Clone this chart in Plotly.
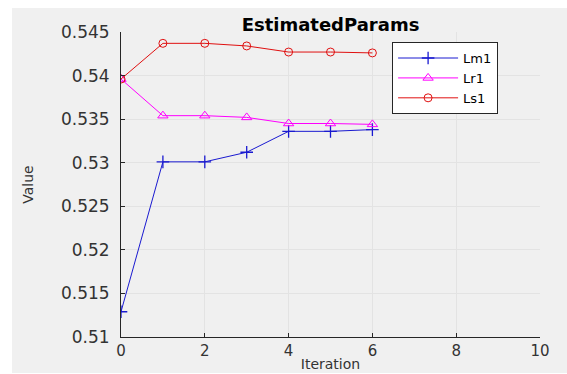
import plotly.graph_objects as go

iterations = [0, 1, 2, 3, 4, 5, 6]
lm1 = [0.5129, 0.5301, 0.5301, 0.5312, 0.5336, 0.5336, 0.5338]
lr1 = [0.5396, 0.5354, 0.5354, 0.5352, 0.5345, 0.5345, 0.5344]
ls1 = [0.5396, 0.5437, 0.5437, 0.5434, 0.5427, 0.5427, 0.5426]

x_ticks = [0, 2, 4, 6, 8, 10]
y_ticks = [0.51, 0.515, 0.52, 0.525, 0.53, 0.535, 0.54, 0.545]
y_tick_labels = ["0.51", "0.515", "0.52", "0.525", "0.53", "0.535", "0.54", "0.545"]

FONT = "DejaVu Sans"

fig = go.Figure()
fig.add_trace(go.Scatter(x=iterations, y=lm1, name="Lm1", mode="lines+markers",
                         line=dict(color="#1a1ad0", width=1),
                         marker=dict(symbol="cross-thin", size=9,
                                     line=dict(color="#1a1ad0", width=1.3))))
fig.add_trace(go.Scatter(x=iterations, y=lr1, name="Lr1", mode="lines+markers",
                         line=dict(color="#ff00ff", width=1),
                         marker=dict(symbol="triangle-up-open", size=9,
                                     color="#ff00ff", line=dict(width=1))))
fig.add_trace(go.Scatter(x=iterations, y=ls1, name="Ls1", mode="lines+markers",
                         line=dict(color="#e01010", width=1),
                         marker=dict(symbol="circle-open", size=8,
                                     color="#e01010", line=dict(width=1))))

# grey figure window background (white strip at the left, top and bottom edges)
fig.add_shape(type="rect", xref="paper", yref="paper",
              x0=-0.2601, x1=1.1, y0=-0.118, y1=1.0787,
              fillcolor="#f0f0f0", line=dict(width=0), layer="below")

fig.update_layout(
    width=567, height=374,
    margin=dict(l=121, r=27, t=32, b=37, autoexpand=False),
    paper_bgcolor="white", plot_bgcolor="white",
    font=dict(family=FONT, size=13, color="#262626"),
    title=dict(text="<b>EstimatedParams</b>", x=0.5, xref="paper", xanchor="center",
               y=1, yref="paper", yanchor="bottom", pad=dict(b=1),
               font=dict(family=FONT, size=18, color="#000000")),
    showlegend=True,
    legend=dict(x=0.647, y=0.967, xanchor="left", yanchor="top",
                bgcolor="white", bordercolor="#262626", borderwidth=1,
                font=dict(family=FONT, size=13, color="#000000"),
                itemwidth=60, tracegroupgap=0),
    xaxis=dict(range=[0, 10], tickvals=x_ticks, showgrid=True, gridcolor="#e3e3e3",
               zeroline=False, showline=True, linecolor="#262626", linewidth=1,
               ticks="inside", ticklen=4, tickcolor="#262626", automargin=False,
               tickfont=dict(size=15, color="#333333"),
               title=dict(text="Iteration", standoff=0,
                          font=dict(size=14, color="#333333"))),
    yaxis=dict(range=[0.51, 0.545], tickvals=y_ticks, ticktext=y_tick_labels,
               showgrid=True, gridcolor="#e3e3e3",
               zeroline=False, showline=True, linecolor="#262626", linewidth=1,
               ticks="inside", ticklen=4, tickcolor="#262626", automargin=False,
               ticklabelstandoff=7,
               tickfont=dict(size=17, color="#333333"),
               title=dict(text="Value", standoff=24,
                          font=dict(size=14, color="#333333"))),
)

fig.write_html("out.html", config={"displayModeBar": False},
               post_script="document.body.style.margin='0';document.body.style.overflow='hidden';")
